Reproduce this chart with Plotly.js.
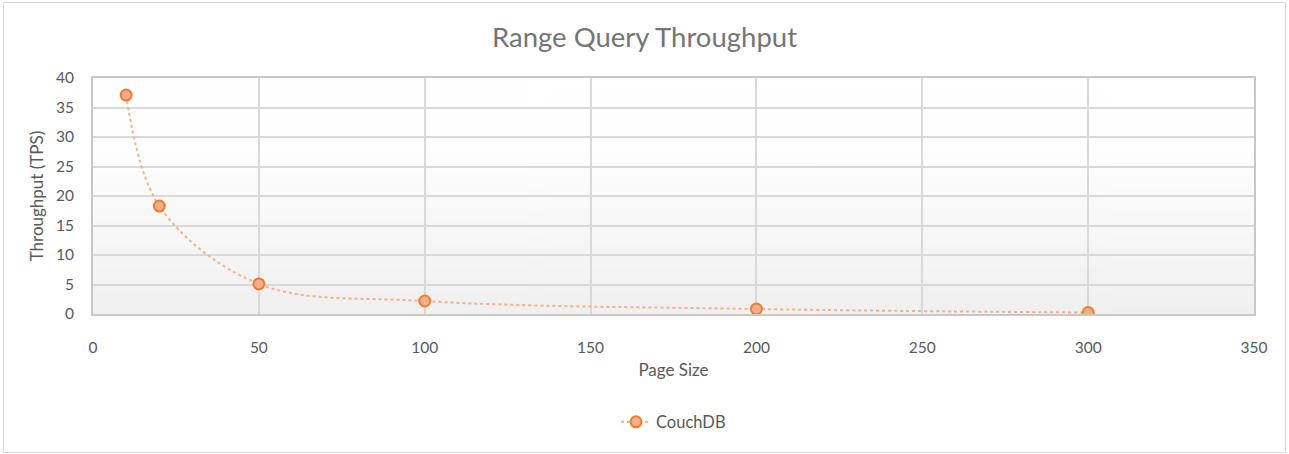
<!DOCTYPE html>
<html>
<head>
<meta charset="utf-8">
<script src="https://cdn.plot.ly/plotly-3.0.1.min.js"></script>
<style>
  html, body { margin: 0; padding: 0; background: #fff; }
  #wrap { position: relative; width: 1289px; height: 454px; }
  #chart { position: absolute; left: 0; top: 0; width: 1289px; height: 454px; }
  #frame { position: absolute; left: 3px; top: 2px; width: 1281px; height: 449px; border: 1px solid #D9D9D9; pointer-events: none; }
</style>
</head>
<body>
<div id="wrap"><div id="chart"></div><div id="frame"></div></div>
<script>
const pageSize = [10, 20, 50, 100, 200, 300];
const couchDB = [37.1, 18.3, 5.1, 2.2, 0.85, 0.25];
const seriesName = "CouchDB";
const chartTitle = "Range Query Throughput";
const xTitle = "Page Size";
const yTitle = "Throughput (TPS)";

// gradient background for the plot area
function gradientURL() {
  const c = document.createElement('canvas');
  c.width = 4; c.height = 256;
  const g = c.getContext('2d');
  const grd = g.createLinearGradient(0, 0, 0, 256);
  grd.addColorStop(0, '#FFFFFF');
  grd.addColorStop(0.3, '#FEFEFE');
  grd.addColorStop(1, '#F0F0F0');
  g.fillStyle = grd;
  g.fillRect(0, 0, 4, 256);
  return c.toDataURL();
}

const font = "Lato, 'Open Sans', sans-serif";

const trace = {
  x: pageSize, y: couchDB, name: seriesName,
  type: 'scatter', mode: 'lines+markers',
  line: { shape: 'spline', smoothing: 1, color: '#F4B183', width: 2, dash: 'dot' },
  marker: { size: 11, color: '#F7AC8C', line: { color: '#ED7D31', width: 2 } }
};

const layout = {
  width: 1289, height: 454,
  margin: { l: 93, r: 35, t: 78, b: 140 },
  paper_bgcolor: '#FFFFFF',
  plot_bgcolor: 'rgba(0,0,0,0)',
  font: { family: font, color: '#595959', size: 14 },
  title: { text: chartTitle, font: { family: font, size: 27.5, color: '#757575' }, x: 0.5, xanchor: 'center', y: 0.918, yanchor: 'middle' },
  xaxis: {
    range: [0, 350], dtick: 50, tick0: 0,
    showgrid: true, gridcolor: '#D9D9D9', gridwidth: 2,
    showline: true, linecolor: '#C8C8C8', linewidth: 2, mirror: true,
    zeroline: false,
    ticks: 'outside', ticklen: 18, tickcolor: 'rgba(0,0,0,0)',
    tickfont: { size: 15.5, color: '#595959' },
    title: { text: xTitle, font: { size: 17, color: '#595959' }, standoff: 10 }
  },
  yaxis: {
    range: [0, 40], dtick: 5, tick0: 0,
    showgrid: true, gridcolor: '#D9D9D9', gridwidth: 2,
    showline: true, linecolor: '#C8C8C8', linewidth: 2, mirror: true,
    zeroline: false,
    ticks: 'outside', ticklen: 14, tickcolor: 'rgba(0,0,0,0)',
    tickfont: { size: 15.5, color: '#595959' },
    title: { text: yTitle, font: { size: 17, color: '#595959' }, standoff: 8 }
  },
  showlegend: true,
  legend: { orientation: 'h', x: 0.5, xanchor: 'center', y: -0.458, yanchor: 'middle',
            font: { size: 16.5, color: '#595959' }, bgcolor: 'rgba(0,0,0,0)' },
  images: [{ source: gradientURL(), xref: 'paper', yref: 'paper', x: 0, y: 1, sizex: 1, sizey: 1,
             sizing: 'stretch', layer: 'below', xanchor: 'left', yanchor: 'top' }]
};

Plotly.newPlot('chart', [trace], layout, { displayModeBar: false, staticPlot: true });
</script>
</body>
</html>
